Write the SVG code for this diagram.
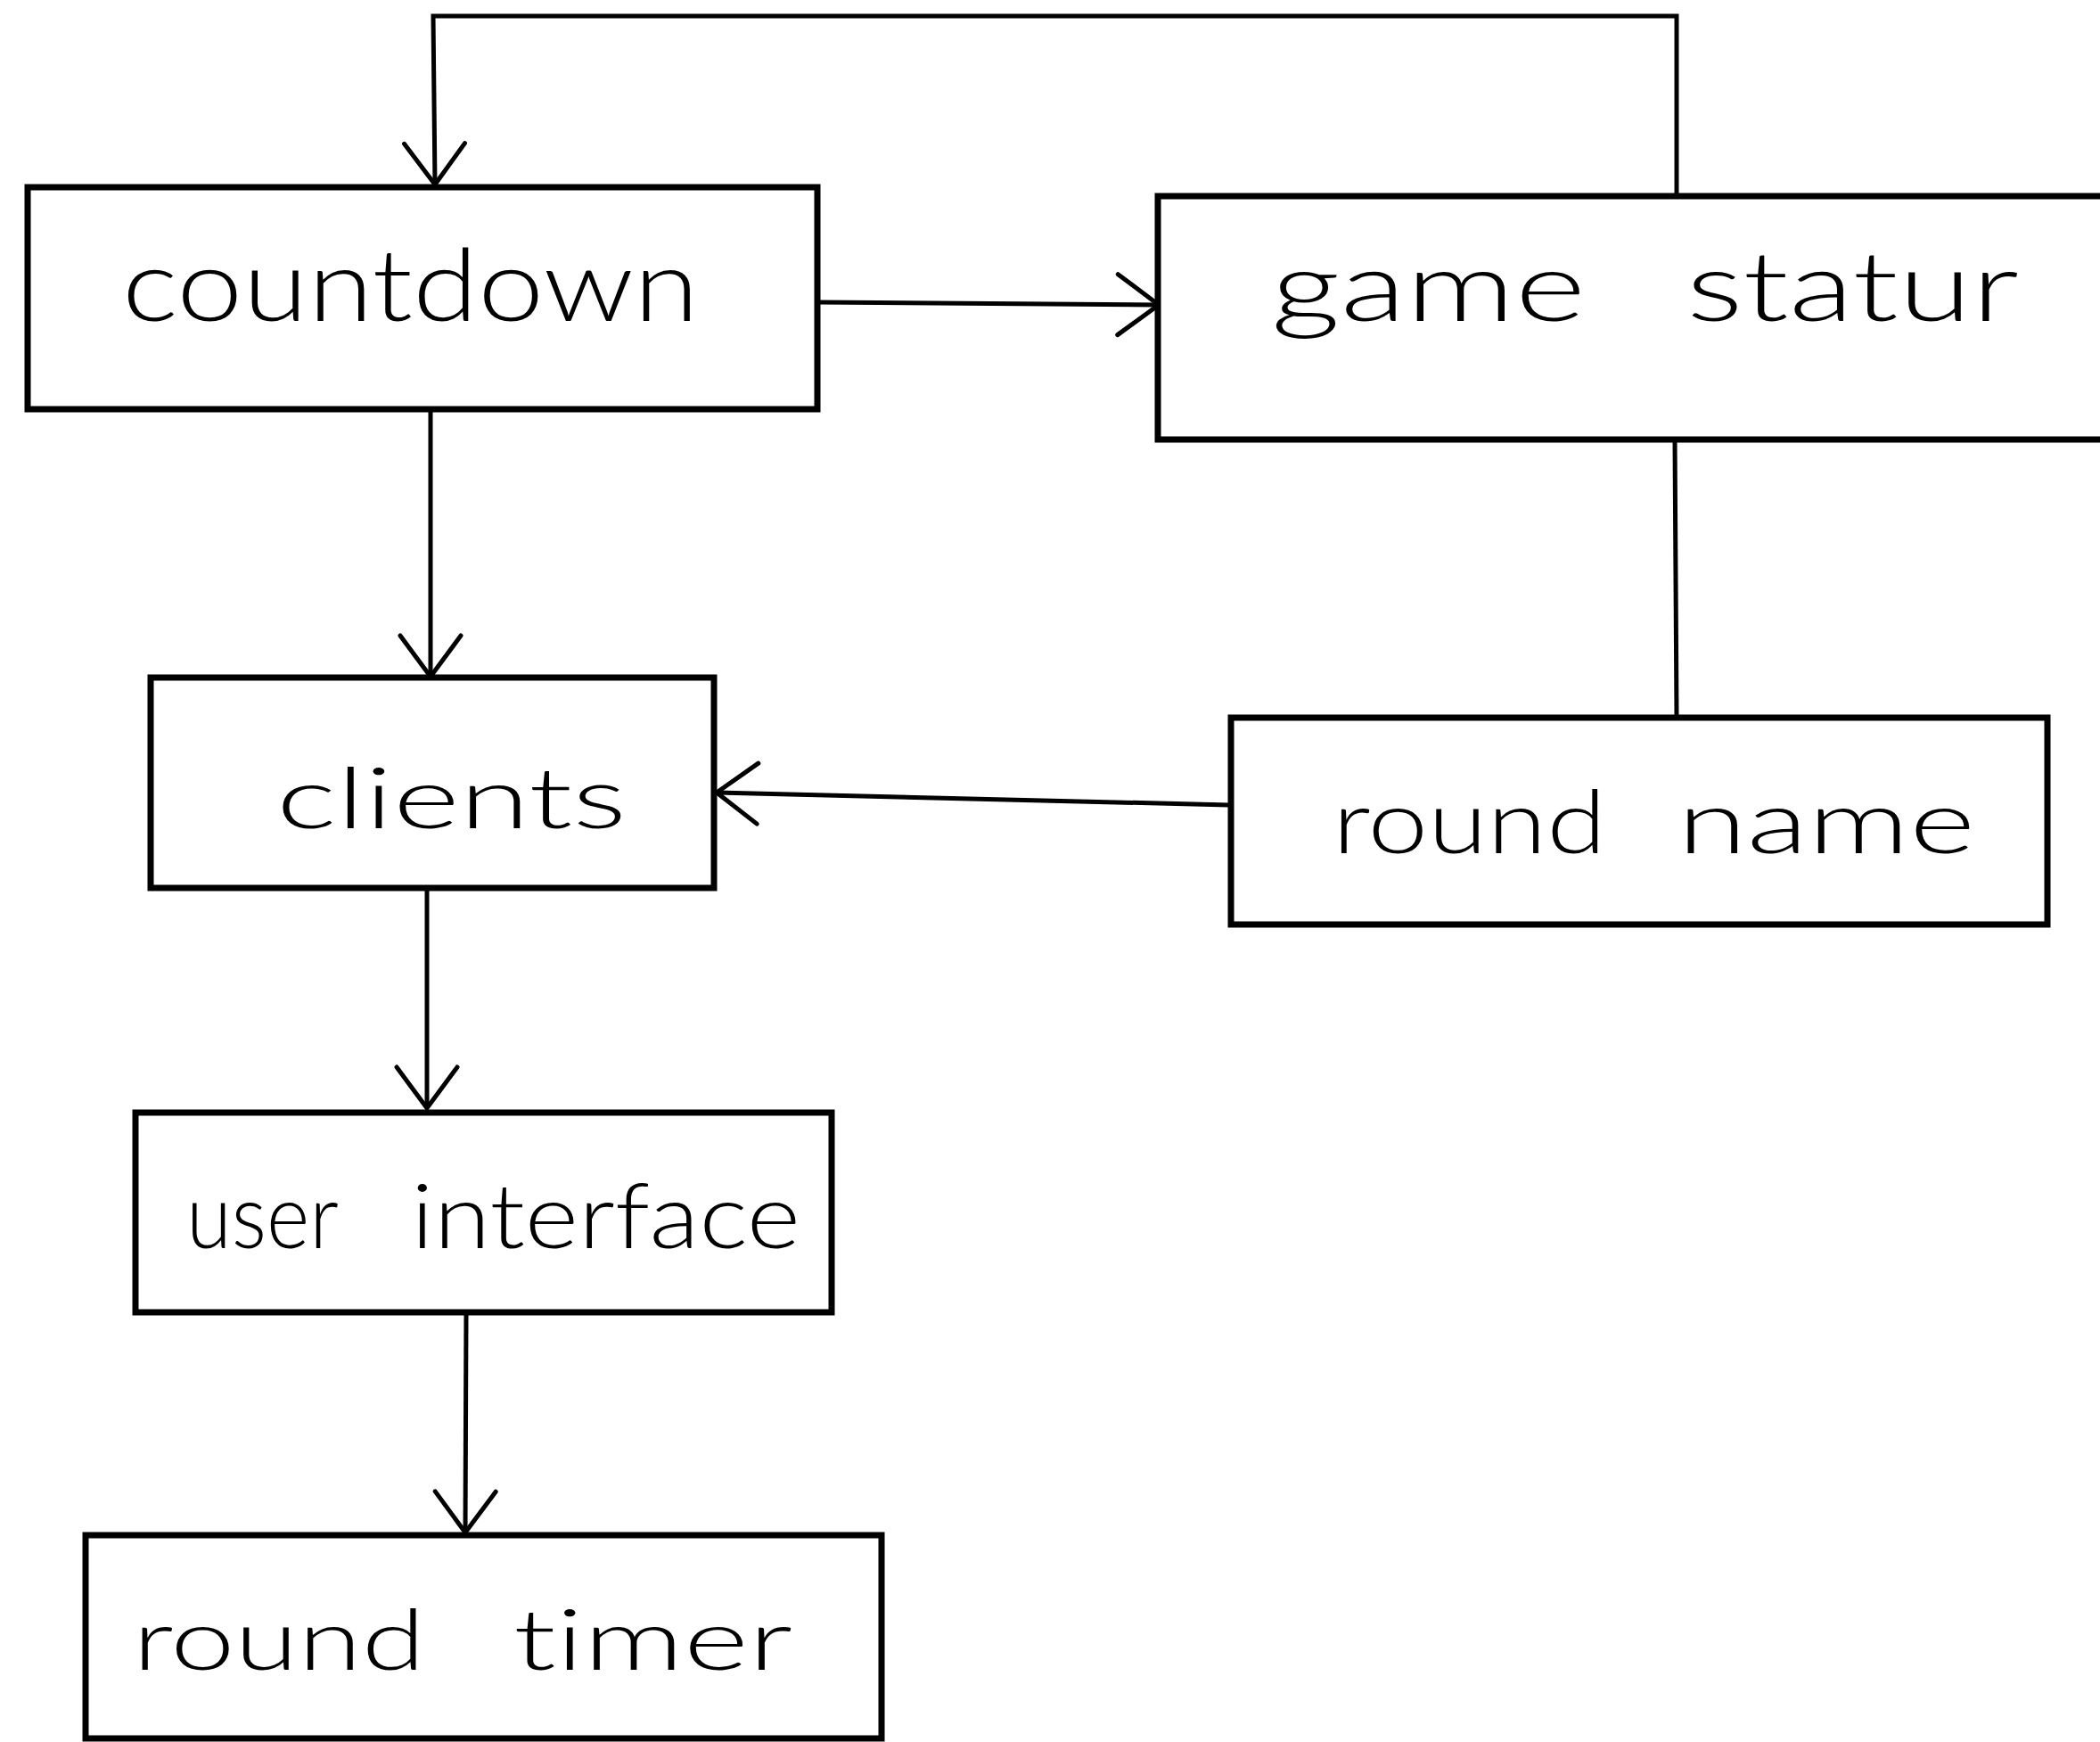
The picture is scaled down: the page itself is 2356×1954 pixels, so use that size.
<svg xmlns="http://www.w3.org/2000/svg" width="2356" height="1954" viewBox="0 0 2356 1954">
  <style>
    .box { fill: #fff; stroke: #000; stroke-width: 7; stroke-linejoin: miter; }
    .label { font-family: "Lato", "Open Sans", "Liberation Sans", sans-serif; font-weight: 300; fill: #000; font-variant-ligatures: none; }
    .edge { fill: none; stroke: #000; stroke-width: 5; stroke-linejoin: miter; }
  </style>
  <defs>
    <marker id="arrow" viewBox="-52 -40 56 80" markerWidth="56" markerHeight="80" refX="0" refY="0" orient="auto" markerUnits="userSpaceOnUse">
      <path d="M-46,-34 L0,0 L-46,34" fill="none" stroke="#000" stroke-width="5" stroke-linecap="round" stroke-linejoin="round"/>
    </marker>
  </defs>
  <rect width="2356" height="1954" fill="#fff"/>

  <!-- connectors -->
  <g id="connectors">
    <!-- game status loops back to countdown -->
    <path class="edge" d="M1881,220 L1881,18 L486,18 L488,207" marker-end="url(#arrow)"/>
    <!-- countdown -> game status -->
    <path class="edge" d="M917,339 L1300,342" marker-end="url(#arrow)"/>
    <!-- countdown -> clients -->
    <path class="edge" d="M483,459 L483,759" marker-end="url(#arrow)"/>
    <!-- game status - round name -->
    <path class="edge" d="M1879,493 L1881,805"/>
    <!-- round name -> clients -->
    <path class="edge" d="M1379,903 L804,889" marker-end="url(#arrow)"/>
    <!-- clients -> user interface -->
    <path class="edge" d="M479,996 L479,1243" marker-end="url(#arrow)"/>
    <!-- user interface -> round timer -->
    <path class="edge" d="M523,1472 L522,1719" marker-end="url(#arrow)"/>
  </g>

  <g id="countdown">
    <rect class="box" x="31" y="210" width="886" height="249"/>
    <text class="label" x="137" y="360" font-size="112" textLength="647" lengthAdjust="spacingAndGlyphs">countdown</text>
  </g>

  <g id="game-status">
    <rect class="box" x="1299" y="220" width="1080" height="273"/>
    <text class="label" y="360" font-size="108">
      <tspan x="1426" textLength="353" lengthAdjust="spacingAndGlyphs">game</tspan>
      <tspan x="1892" textLength="373" lengthAdjust="spacingAndGlyphs">statur</tspan>
    </text>
  </g>

  <g id="clients">
    <rect class="box" x="169" y="760" width="632" height="236"/>
    <text class="label" x="310" y="929" font-size="95" textLength="393" lengthAdjust="spacingAndGlyphs">clients</text>
  </g>

  <g id="round-name">
    <rect class="box" x="1381" y="805" width="916" height="232"/>
    <text class="label" y="957" font-size="98">
      <tspan x="1495" textLength="307" lengthAdjust="spacingAndGlyphs">round</tspan>
      <tspan x="1882" textLength="334" lengthAdjust="spacingAndGlyphs">name</tspan>
    </text>
  </g>

  <g id="user-interface">
    <rect class="box" x="152" y="1248" width="781" height="224"/>
    <text class="label" y="1400" font-size="100">
      <tspan x="209" textLength="169" lengthAdjust="spacingAndGlyphs">user</tspan>
      <tspan x="461" textLength="437" lengthAdjust="spacingAndGlyphs">interface</tspan>
    </text>
  </g>

  <g id="round-timer">
    <rect class="box" x="96" y="1722" width="893" height="228"/>
    <text class="label" y="1873" font-size="95">
      <tspan x="149" textLength="328" lengthAdjust="spacingAndGlyphs">round</tspan>
      <tspan x="576" textLength="313" lengthAdjust="spacingAndGlyphs">timer</tspan>
    </text>
  </g>
</svg>
